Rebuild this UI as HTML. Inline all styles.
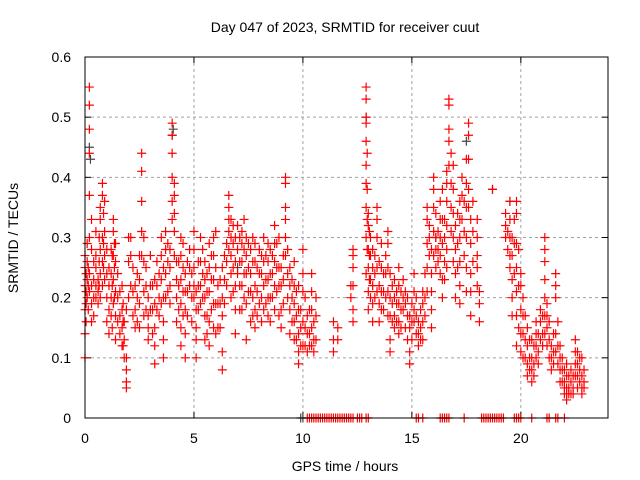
<!DOCTYPE html>
<html><head><meta charset="utf-8"><style>
body{margin:0;background:#fff;}
svg{display:block;font-family:"Liberation Sans",sans-serif;}
</style></head><body>
<svg id="chart" width="640" height="480" viewBox="0 0 640 480"></svg>
<script>
const xTicks=[0,5,10,15,20];
const yTicks=[0,0.1,0.2,0.3,0.4,0.5,0.6];
const yTickLabels=["0","0.1","0.2","0.3","0.4","0.5","0.6"];
const times=[0.0,0.1,0.2,0.3,0.5,0.6,0.7,0.8,0.9,1.1,1.2,1.3,1.4,1.5,1.7,1.8,1.9,2.0,2.1,2.3,2.5,2.6,2.7,2.9,3.0,3.2,3.3,3.5,3.6,3.7,3.9,4.0,4.1,4.2,4.4,4.6,4.8,4.9,5.0,5.1,5.3,5.5,5.7,5.9,6.0,6.1,6.3,6.5,6.6,6.7,6.9,7.0,7.2,7.4,7.6,7.8,7.9,8.1,8.2,8.4,8.6,8.7,8.9,9.0,9.2,9.3,9.4,9.6,9.8,9.9,10.0,10.2,10.4,10.6,11.4,11.6,12.2,12.3,12.9,13.0,13.1,13.2,13.4,13.5,13.7,13.8,13.9,14.0,14.2,14.3,14.4,14.6,14.7,14.9,15.1,15.2,15.3,15.5,15.7,15.8,15.9,16.0,16.1,16.3,16.4,16.6,16.7,16.8,16.9,17.0,17.2,17.3,17.5,17.6,17.7,18.0,18.1,18.7,19.3,19.5,19.6,19.8,20.0,20.1,20.3,20.5,20.7,20.9,21.1,21.2,21.4,21.6,21.8,22.0,22.1,22.3,22.5,22.6,22.8,22.9];
const values=[[0.27,0.25,0.22,0.14,0.10,0.18],[0.23,0.26,0.29,0.20],[0.55,0.52,0.48,0.44,0.37,0.30,0.24,0.21],[0.33,0.28,0.22,0.19,0.16],[0.22,0.20,0.25,0.31,0.27],[0.21,0.19,0.23],[0.35,0.33,0.28,0.24,0.20],[0.39,0.37,0.30,0.26,0.22],[0.36,0.31,0.27,0.23],[0.25,0.22,0.18,0.14],[0.28,0.24,0.20,0.17],[0.33,0.31,0.27,0.23,0.19],[0.29,0.26,0.21,0.17,0.13],[0.24,0.20,0.16],[0.22,0.18,0.15,0.12],[0.16,0.13,0.10],[0.08,0.06,0.05,0.10,0.18],[0.20,0.26,0.30],[0.30,0.27,0.22],[0.22,0.18,0.15],[0.27,0.23,0.19,0.15],[0.44,0.41,0.36,0.31,0.27],[0.30,0.26,0.21,0.17],[0.20,0.17,0.15,0.13],[0.27,0.22,0.18],[0.23,0.19,0.15,0.12,0.09],[0.26,0.22,0.18],[0.30,0.27,0.23,0.19],[0.25,0.20,0.16,0.13,0.10],[0.31,0.28,0.24,0.20],[0.28,0.25,0.22,0.19],[0.49,0.47,0.44,0.40,0.36,0.33],[0.39,0.37,0.34,0.31,0.27],[0.26,0.23,0.20,0.16],[0.30,0.27,0.23,0.19,0.15,0.12],[0.24,0.21,0.18,0.14,0.10],[0.28,0.25,0.22],[0.24,0.20,0.16],[0.20,0.22,0.25,0.28,0.31],[0.21,0.18,0.15,0.13,0.10],[0.30,0.26,0.22,0.19],[0.26,0.23,0.20,0.17,0.13],[0.29,0.25,0.21,0.16,0.12],[0.30,0.27,0.23,0.19,0.15],[0.31,0.25,0.19,0.14],[0.22,0.19,0.15],[0.25,0.20,0.17,0.11,0.08],[0.29,0.26,0.22],[0.37,0.35,0.33,0.31,0.28],[0.33,0.30,0.27,0.24,0.20],[0.30,0.26,0.22,0.18,0.14],[0.32,0.28,0.24],[0.31,0.29,0.26,0.22,0.18],[0.30,0.27,0.24,0.19,0.13],[0.28,0.24,0.21,0.16],[0.29,0.26,0.22,0.18,0.15],[0.25,0.21,0.17],[0.27,0.24,0.20,0.16],[0.30,0.26,0.22,0.18],[0.29,0.26,0.23,0.20,0.17],[0.27,0.24,0.20],[0.32,0.29,0.26,0.22,0.18],[0.30,0.25,0.22,0.17],[0.25,0.22,0.18,0.15],[0.40,0.39,0.35,0.33,0.30,0.27],[0.28,0.24,0.20],[0.25,0.22,0.18,0.14],[0.26,0.22,0.19,0.16,0.13],[0.22,0.18,0.14,0.11,0.09],[0.18,0.15,0.12],[0.28,0.24,0.21,0.16,0.12],[0.17,0.14,0.11],[0.24,0.21,0.18,0.15,0.12],[0.20,0.17,0.13],[0.16,0.13,0.11],[0.15,0.13],[0.20,0.22],[0.28,0.27,0.25,0.22,0.18,0.16],[0.55,0.53,0.50,0.49,0.46,0.42,0.39,0.35,0.30,0.24],[0.34,0.32,0.28,0.25,0.21,0.18],[0.30,0.27,0.23,0.20],[0.28,0.25,0.22,0.19,0.16],[0.35,0.33,0.30,0.25,0.21],[0.26,0.22,0.19,0.16],[0.24,0.21,0.18],[0.27,0.24,0.20],[0.31,0.29,0.25,0.21,0.17],[0.24,0.20,0.17,0.13,0.11],[0.23,0.20,0.17,0.15],[0.21,0.19,0.16],[0.25,0.22,0.19,0.16,0.14],[0.23,0.20,0.18],[0.21,0.19,0.15],[0.17,0.15,0.11,0.09],[0.24,0.21,0.18,0.16],[0.20,0.17,0.14],[0.16,0.14,0.12],[0.21,0.19,0.16,0.13],[0.35,0.33,0.29,0.25,0.21],[0.32,0.30,0.27],[0.28,0.24,0.21,0.18,0.15],[0.40,0.38,0.35,0.31,0.27],[0.34,0.30,0.28,0.25],[0.36,0.33,0.30,0.27,0.24],[0.38,0.33,0.29,0.23,0.20],[0.41,0.39,0.36,0.32,0.28,0.25],[0.53,0.52,0.48,0.46,0.42],[0.44,0.39,0.35,0.31],[0.42,0.38,0.34,0.30,0.26],[0.32,0.28,0.24,0.20],[0.36,0.33,0.30,0.26,0.22,0.19],[0.40,0.37,0.33],[0.43,0.39,0.35,0.30,0.25,0.21],[0.49,0.47,0.43,0.38,0.35],[0.33,0.29,0.24,0.21,0.17],[0.33,0.30,0.27,0.25,0.22],[0.21,0.19,0.16],[0.38],[0.34,0.32,0.30],[0.36,0.33,0.30,0.27,0.25],[0.30,0.27,0.23,0.20,0.17],[0.36,0.34,0.29,0.25,0.21,0.17,0.12],[0.24,0.22,0.18,0.14,0.11],[0.20,0.17,0.14,0.10],[0.15,0.12,0.09,0.07],[0.13,0.10,0.08,0.06],[0.16,0.14,0.12,0.10],[0.18,0.16,0.13],[0.30,0.28,0.26,0.23,0.20,0.17,0.14],[0.19,0.17,0.15,0.12],[0.12,0.10,0.08],[0.24,0.22,0.20,0.14,0.11],[0.12,0.10,0.08,0.06],[0.08,0.06,0.05,0.04],[0.09,0.07,0.05,0.04,0.03],[0.08,0.06,0.04],[0.13,0.11,0.09,0.07],[0.11,0.09,0.07,0.05],[0.10,0.07,0.05,0.04],[0.08,0.06,0.05]];
const times2=[0.05,0.15,0.4,0.65,0.85,1.0,1.25,1.35,1.6,1.75,2.2,2.4,2.8,3.1,3.4,3.8,4.3,4.5,4.7,5.2,5.4,5.6,5.8,6.2,6.4,6.8,7.1,7.3,7.5,7.7,8.0,8.3,8.5,8.8,9.1,9.5,9.7,10.1,10.3,10.5,12.95,13.05,13.3,13.6,14.1,14.5,14.8,15.0,15.4,15.6,16.2,16.5,17.1,17.4,17.8,19.4,19.7,19.9,20.2,20.4,20.6,20.8,21.0,21.3,21.5,21.7,21.9,22.2,22.4,22.7];
const values2=[[0.24,0.21,0.19,0.16],[0.25,0.22,0.18],[0.26,0.23,0.20,0.17],[0.30,0.26,0.22],[0.34,0.29,0.25],[0.28,0.24,0.20,0.16],[0.27,0.22,0.15],[0.29,0.25,0.20],[0.21,0.17,0.14],[0.19,0.16,0.12],[0.25,0.21,0.17],[0.24,0.20,0.16],[0.25,0.22,0.18],[0.22,0.18,0.14],[0.24,0.20,0.17],[0.29,0.26,0.21],[0.26,0.22,0.18],[0.29,0.25,0.21,0.17],[0.26,0.21,0.17],[0.26,0.22,0.18],[0.28,0.24,0.20],[0.24,0.21,0.17,0.14],[0.27,0.23,0.18],[0.23,0.19,0.15],[0.27,0.23,0.19],[0.32,0.29,0.25,0.21],[0.30,0.26,0.22,0.18],[0.33,0.28,0.24,0.20],[0.29,0.25,0.21],[0.30,0.26,0.20,0.17],[0.28,0.24,0.19],[0.27,0.23,0.19],[0.28,0.24,0.20,0.16],[0.29,0.25,0.21],[0.27,0.23,0.19],[0.23,0.20,0.16],[0.21,0.17,0.13],[0.20,0.15,0.12],[0.18,0.14,0.12],[0.16,0.13,0.11],[0.44,0.38,0.33,0.28],[0.31,0.27,0.23],[0.27,0.24,0.20],[0.29,0.25,0.21,0.18],[0.22,0.19,0.16],[0.21,0.18,0.15],[0.20,0.17,0.13],[0.19,0.16,0.13],[0.18,0.15,0.13],[0.24,0.20,0.17],[0.31,0.28,0.26],[0.33,0.30,0.26,0.23],[0.34,0.29,0.25],[0.36,0.31,0.27],[0.36,0.31,0.26],[0.31,0.28],[0.33,0.29,0.24],[0.28,0.22,0.15],[0.17,0.13,0.10],[0.13,0.10,0.08],[0.12,0.09,0.07],[0.14,0.11,0.09],[0.17,0.14,0.12],[0.16,0.13,0.10],[0.14,0.11,0.09],[0.16,0.12,0.09],[0.10,0.08,0.06],[0.07,0.05,0.04],[0.07,0.05,0.04],[0.10,0.08,0.06]];
const zeroTimes=[10.2,10.3,10.4,10.5,10.6,10.7,10.8,10.9,11.0,11.1,11.2,11.3,11.4,11.5,11.6,11.7,11.8,11.9,12.0,12.1,12.2,12.3,12.5,12.6,12.7,12.9,13.0,15.2,15.3,15.5,16.3,16.4,16.5,16.6,16.7,17.4,18.2,18.3,18.4,18.5,18.6,18.7,18.8,18.9,19.0,19.1,19.2,19.7,19.8,19.9,20.0,20.5,21.2,21.3,21.6,21.7,22.0];
const grayTimes=[0.2,0.25,4.0,4.05,12.9,18.7,17.5,9.9,10.0,19.5,7.0,16.1];
const grayValues=[0.45,0.43,0.47,0.48,0.50,0.38,0.46,0.0,0.0,0.36,0.25,0.30];

const L=85,R=608,T=57,B=418;
const X=h=>L+(h/24)*(R-L);
const Y=v=>B-(v/0.6)*(B-T);
const svg=document.getElementById('chart');
const NS='http://www.w3.org/2000/svg';
function mk(tag,attrs,parent){const e=document.createElementNS(NS,tag);for(const k in attrs)e.setAttribute(k,attrs[k]);(parent||svg).appendChild(e);return e;}

const grid=mk('g',{});


xTicks.forEach(t=>{if(t>0)mk('line',{x1:X(t),x2:X(t),y1:T,y2:B,stroke:'#a0a0a0','stroke-dasharray':'3,3','stroke-width':1},grid);});
yTicks.forEach(t=>{if(t>0&&t<0.6)mk('line',{x1:L,x2:R,y1:Y(t),y2:Y(t),stroke:'#a0a0a0','stroke-dasharray':'3,3','stroke-width':1},grid);});

const ticks=mk('g',{stroke:'#000','stroke-width':1});


xTicks.forEach(t=>{mk('line',{x1:X(t),x2:X(t),y1:B,y2:B-6},ticks);mk('line',{x1:X(t),x2:X(t),y1:T,y2:T+6},ticks);});
yTicks.forEach(t=>{mk('line',{x1:L,x2:L+6,y1:Y(t),y2:Y(t)},ticks);mk('line',{x1:R,x2:R-6,y1:Y(t),y2:Y(t)},ticks);});

const xl=mk('g',{'font-size':14,'text-anchor':'middle',fill:'#000'});


xTicks.forEach(t=>{const e=mk('text',{x:X(t),y:443},xl);e.textContent=String(t);});
const yl=mk('g',{'font-size':14,'text-anchor':'end',fill:'#000'});


yTicks.forEach((t,i)=>{const e=mk('text',{x:71,y:Y(t)+5},yl);e.textContent=yTickLabels[i];});

function plus(g,x,y,c){mk('path',{d:`M${x-4.5} ${y}H${x+4.5}M${x} ${y-4.5}V${y+4.5}`,stroke:c,'stroke-width':1.2,fill:'none'},g);}
const gray=mk('g',{});


grayTimes.forEach((t,i)=>plus(gray,X(t),Y(grayValues[i]),'#444'));
const red=mk('g',{});


times.forEach((t,i)=>values[i].forEach(v=>plus(red,X(t),Y(v),'#ff0000')));
times2.forEach((t,i)=>values2[i].forEach(v=>plus(red,X(t),Y(v),'#ff0000')));
zeroTimes.forEach(t=>plus(red,X(t),Y(0),'#ff0000'));

const frame=mk('rect',{x:L,y:T,width:R-L,height:B-T,fill:'none',stroke:'#000','stroke-width':1});



const title=mk('text',{x:345,y:32,'font-size':14,'text-anchor':'middle'});


title.textContent='Day 047 of 2023, SRMTID for receiver cuut';
const xt=mk('text',{x:345,y:471,'font-size':14,'text-anchor':'middle'});


xt.textContent='GPS time / hours';
const yt=mk('text',{x:0,y:0,'font-size':14,'text-anchor':'middle',transform:'translate(18,238) rotate(-90)'});


yt.textContent='SRMTID / TECUs';
</script>
</body></html>
